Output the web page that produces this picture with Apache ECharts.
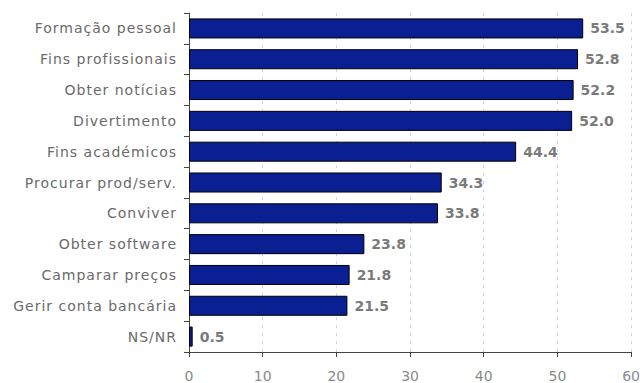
<!DOCTYPE html>
<html><head><meta charset="utf-8">
<script src="https://cdn.jsdelivr.net/npm/echarts@6/dist/echarts.min.js"></script>
<style>html,body{margin:0;padding:0;background:#fff}#c{width:643px;height:383px}
#c text.cat{letter-spacing:1px}</style>
</head><body><div id="c"></div>
<script>
const categories = ["Formação pessoal","Fins profissionais","Obter notícias","Divertimento","Fins académicos","Procurar prod/serv.","Conviver","Obter software","Camparar preços","Gerir conta bancária","NS/NR"];
const values = [53.5,52.8,52.2,52.0,44.4,34.3,33.8,23.8,21.8,21.5,0.5];
const xTicks = [0,10,20,30,40,50,60];

const chart = echarts.init(document.getElementById('c'), null, {renderer:'svg'});
chart.setOption({
  animation:false,
  grid:{left:189,right:11,top:13,bottom:29,containLabel:false},
  xAxis:{type:'value',min:0,max:60,interval:10,
    axisLine:{show:true,lineStyle:{color:'#444',width:1}},
    axisTick:{show:true,length:5,lineStyle:{color:'#444'}},
    axisLabel:{color:'#8a8a8a',fontFamily:'DejaVu Sans',fontSize:14,margin:17,formatter:v=>xTicks.includes(v)?String(v):''},
    splitLine:{show:true,lineStyle:{color:'#d0d0f6',type:[3,5],width:1}}},
  yAxis:{type:'category',inverse:true,data:categories,
    axisLine:{show:true,lineStyle:{color:'#444'}},
    axisTick:{show:true,length:5,lineStyle:{color:'#444'}},
    axisLabel:{color:'#6a6a6a',fontFamily:'DejaVu Sans',fontSize:14,margin:12},
    splitLine:{show:false}},
  series:[{type:'bar',data:values,barWidth:'65%',
    itemStyle:{color:'#0a1f91',borderColor:'#000',borderWidth:1},
    label:{show:true,position:'right',distance:7,color:'#7a7a7a',fontFamily:'DejaVu Sans',fontWeight:'bold',fontSize:14,formatter:p=>p.value.toFixed(1)}}]
});
const cats = new Set(categories);
document.querySelectorAll('#c text').forEach(t=>{ if(cats.has(t.textContent)) t.classList.add('cat'); });
</script></body></html>
